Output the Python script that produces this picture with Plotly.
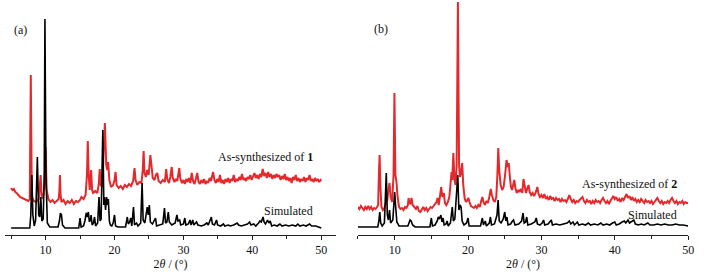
import plotly.graph_objects as go

# ---------------- Panel (a) ----------------
sim_a_x = [5.0, 7.7, 7.85, 8.0, 8.15, 8.35, 8.55, 8.8, 9.0, 9.15, 9.3, 9.45, 9.65, 9.8, 9.9, 10.05, 10.25, 10.6,
           11.8, 12.0, 12.15, 12.3, 12.45, 12.8, 14.8, 15.0, 15.15, 15.5, 15.7, 15.9, 16.05, 16.2, 16.35, 16.5,
           16.6, 16.75, 16.95, 17.1, 17.25, 17.55, 17.75, 17.9, 18.05, 18.3, 18.45, 18.55, 18.7, 18.85, 19.0,
           19.1, 19.25, 19.4, 19.6, 19.8, 20.0, 20.15, 20.5, 21.6, 21.85, 22.0, 22.2, 22.35, 22.5, 22.75, 22.9,
           23.2, 23.4, 23.8, 24.0, 24.15, 24.4, 24.6, 24.75, 24.9, 25.05, 25.2, 25.5, 25.8, 25.95, 26.1, 26.5,
           27.0, 27.25, 27.4, 27.6, 27.8, 27.95, 28.3, 28.8, 29.05, 29.2, 29.45, 29.6, 30.0, 30.2, 30.35, 30.7,
           30.95, 31.1, 31.35, 31.5, 31.9, 32.1, 32.6, 33.0, 33.4, 33.6, 33.9, 34.05, 34.2, 34.5, 34.8, 34.95,
           35.4, 35.8, 36.0, 36.5, 36.8, 37.3, 37.8, 38.0, 38.4, 38.9, 39.3, 39.6, 39.8, 40.2, 40.5, 40.9, 41.1,
           41.3, 41.55, 41.7, 41.9, 42.2, 42.4, 42.6, 42.8, 43.2, 43.6, 44.0, 44.3, 44.8, 45.3, 45.8, 46.3, 46.6,
           46.9, 47.4, 47.8, 48.3, 48.6, 49.2, 49.6, 50.0]
sim_a_y = [7, 7, 20, 60, 20, 9, 15, 78, 20, 18, 38, 14, 16, 60, 216, 60, 12, 8,
           8, 14, 22, 20, 10, 7, 7, 17, 8, 9, 14, 22, 18, 23, 13, 15,
           20, 10, 12, 18, 9, 12, 38, 14, 16, 105, 30, 38, 25, 38, 30,
           36, 14, 10, 9, 12, 20, 9, 8, 8, 18, 11, 13, 17, 9, 28, 10,
           12, 9, 12, 52, 15, 12, 22, 28, 20, 30, 13, 11, 15, 17, 9, 10,
           11, 27, 12, 13, 23, 13, 10, 12, 20, 14, 15, 10, 11, 17, 10, 11,
           15, 10, 15, 10, 13, 10, 9, 10, 12, 10, 15, 18, 11, 10, 15, 10,
           9, 11, 9, 10, 9, 10, 12, 10, 9, 10, 11, 13, 10, 11, 9, 12, 14,
           13, 18, 13, 11, 15, 12, 14, 9, 10, 9, 11, 9, 10, 9, 10, 9, 11,
           9, 10, 9, 11, 9, 9, 8, 7]

exp_a_x = [5.0, 5.2, 5.4, 5.6, 5.8, 6.0, 6.3, 6.6, 6.9, 7.2, 7.5, 7.7, 7.8, 7.85, 7.92, 8.0, 8.3, 8.6, 9.0,
           9.15, 9.28, 9.4, 9.6, 9.85, 10.0, 10.15, 10.4, 10.7, 11.0, 11.3, 11.6, 11.9, 12.0, 12.08, 12.17,
           12.3, 12.6, 12.9, 13.2, 13.5, 13.8, 14.1, 14.4, 14.7, 15.0, 15.2, 15.5, 15.8, 16.0, 16.12, 16.25,
           16.4, 16.6, 16.75, 16.9, 17.2, 17.5, 17.7, 17.85, 18.0, 18.2, 18.4, 18.6, 18.8, 18.95, 19.07, 19.25,
           19.5, 19.8, 20.0, 20.15, 20.3, 20.6, 20.9, 21.2, 21.5, 21.8, 22.1, 22.4, 22.7, 22.9, 23.05, 23.3,
           23.6, 23.9, 24.1, 24.22, 24.35, 24.55, 24.75, 24.95, 25.2, 25.35, 25.55, 25.8, 26.0, 26.2, 26.4,
           26.7, 27.0, 27.3, 27.5, 27.65, 27.9, 28.1, 28.3, 28.45, 28.7, 28.9, 29.1, 29.4, 29.55, 29.8, 30.0,
           30.2, 30.4, 30.6, 30.8, 31.0, 31.2, 31.4, 31.6, 31.8, 32.0, 32.2, 32.4, 32.6, 32.8, 33.0, 33.2,
           33.4, 33.6, 33.8, 34.0, 34.3, 34.5, 34.7, 34.9, 35.1, 35.3, 35.5, 35.7, 35.9, 36.1, 36.3, 36.5,
           36.7, 36.9, 37.1, 37.3, 37.5, 37.7, 37.9, 38.1, 38.3, 38.5, 38.7, 38.9, 39.1, 39.3, 39.5, 39.7,
           39.9, 40.1, 40.3, 40.5, 40.7, 40.9, 41.1, 41.3, 41.5, 41.7, 41.9, 42.1, 42.3, 42.5, 42.7, 42.9,
           43.1, 43.3, 43.5, 43.7, 43.9, 44.1, 44.3, 44.5, 44.7, 44.9, 45.1, 45.3, 45.5, 45.7, 45.9, 46.1,
           46.3, 46.5, 46.7, 46.9, 47.1, 47.3, 47.5, 47.7, 47.9, 48.1, 48.3, 48.5, 48.7, 48.9, 49.1, 49.3,
           49.5, 49.7, 49.9, 50.0]
exp_a_y = [47, 45, 46, 43, 42, 40, 38, 37, 36, 35, 34, 36, 100, 160, 100, 38, 34, 33, 36,
           50, 60, 40, 36, 50, 88, 45, 36, 33, 35, 32, 34, 36, 45, 60, 40,
           33, 35, 31, 34, 32, 35, 31, 34, 33, 35, 38, 36, 40, 60, 94, 60,
           45, 65, 45, 42, 44, 42, 50, 66, 50, 48, 75, 112, 70, 65, 73, 55,
           48, 50, 55, 63, 50, 47, 49, 46, 50, 48, 51, 49, 54, 67, 55, 50,
           53, 52, 65, 84, 62, 58, 65, 60, 80, 70, 57, 55, 60, 62, 54,
           52, 55, 53, 66, 56, 52, 58, 68, 57, 53, 56, 54, 67, 56, 52, 55,
           51, 56, 53, 57, 52, 62, 54, 51, 56, 62, 53, 51, 55, 52, 56, 51,
           54, 52, 57, 54, 63, 55, 52, 56, 53, 60, 52, 55, 51, 56, 53, 57,
           52, 56, 54, 60, 53, 56, 54, 58, 55, 61, 55, 57, 54, 58, 56, 60,
           55, 59, 62, 57, 60, 56, 61, 58, 66, 59, 62, 57, 63, 58, 61, 56,
           60, 57, 61, 58, 60, 55, 59, 56, 61, 55, 58, 54, 57, 52, 58, 55,
           60, 54, 57, 53, 56, 54, 58, 53, 57, 55, 60, 54, 56, 53, 57, 54,
           56, 53, 55, 54]

# ---------------- Panel (b) ----------------
sim_b_x = [5.0, 7.7, 7.85, 7.97, 8.1, 8.3, 8.6, 8.86, 9.0, 9.15, 9.3, 9.45, 9.75, 9.9, 10.0, 10.12, 10.3, 10.6,
           11.8, 12.0, 12.1, 12.25, 12.45, 12.8, 14.8, 15.0, 15.15, 15.5, 15.8, 15.95, 16.1, 16.3, 16.45, 16.6,
           16.75, 17.0, 17.15, 17.3, 17.6, 17.85, 18.0, 18.2, 18.45, 18.6, 18.75, 18.9, 19.05, 19.2, 19.45, 19.8,
           20.0, 20.15, 20.5, 21.7, 21.95, 22.1, 22.35, 22.5, 22.9, 23.05, 23.2, 23.6, 23.95, 24.1, 24.25, 24.5,
           24.8, 25.0, 25.15, 25.3, 25.45, 25.8, 26.05, 26.2, 26.4, 26.9, 27.3, 27.5, 27.65, 27.85, 28.0, 28.15,
           28.6, 29.1, 29.3, 29.45, 29.8, 30.1, 30.3, 30.45, 30.9, 31.2, 31.35, 31.5, 32.0, 32.5, 33.0, 33.5,
           33.8, 34.0, 34.3, 34.5, 34.9, 35.1, 35.6, 36.0, 36.4, 36.7, 37.2, 37.7, 38.1, 38.4, 38.9, 39.3, 39.7,
           40.0, 40.2, 40.6, 41.0, 41.3, 41.5, 41.8, 42.0, 42.3, 42.6, 42.8, 43.2, 43.6, 44.0, 44.5, 44.8, 45.3,
           45.8, 46.3, 46.8, 47.3, 47.8, 48.3, 48.8, 49.3, 49.7, 50.0]
sim_b_y = [8, 8, 14, 23, 12, 9, 12, 62, 20, 15, 25, 12, 15, 35, 43, 30, 13, 9,
           9, 13, 15, 14, 10, 8, 8, 17, 9, 10, 14, 18, 16, 20, 13, 17,
           10, 11, 14, 9, 12, 28, 14, 16, 45, 60, 25, 30, 28, 14, 10, 12,
           17, 9, 9, 9, 17, 10, 14, 9, 12, 18, 10, 11, 20, 35, 14, 12,
           16, 23, 14, 18, 10, 11, 14, 15, 10, 11, 14, 22, 12, 13, 18, 10,
           11, 13, 17, 11, 10, 12, 15, 10, 11, 13, 15, 10, 11, 10, 11, 12,
           14, 11, 13, 10, 13, 10, 11, 10, 12, 10, 11, 10, 12, 10, 11, 10, 12,
           13, 10, 11, 13, 14, 12, 15, 12, 14, 15, 11, 10, 11, 10, 12, 10, 10,
           11, 10, 11, 10, 10, 11, 10, 10, 9, 9]

exp_b_x = [5.0, 5.2, 5.4, 5.6, 5.8, 6.0, 6.2, 6.4, 6.6, 6.8, 7.0, 7.2, 7.4, 7.6, 7.75, 7.85, 7.95, 8.05, 8.2,
           8.4, 8.6, 8.8, 9.0, 9.15, 9.3, 9.45, 9.65, 9.85, 9.97, 10.1, 10.25, 10.4, 10.6, 10.8, 11.0, 11.2,
           11.4, 11.6, 11.8, 11.9, 12.0, 12.15, 12.3, 12.45, 12.7, 12.9, 13.1, 13.3, 13.5, 13.7, 13.9, 14.1,
           14.3, 14.5, 14.7, 14.9, 15.1, 15.3, 15.5, 15.7, 15.85, 16.0, 16.2, 16.35, 16.5, 16.7, 16.85, 17.05,
           17.25, 17.45, 17.6, 17.75, 17.85, 18.0, 18.15, 18.3, 18.45, 18.62, 18.78, 18.9, 19.05, 19.2, 19.35,
           19.55, 19.75, 19.9, 20.05, 20.2, 20.4, 20.6, 20.8, 21.0, 21.2, 21.4, 21.6, 21.8, 21.95, 22.1, 22.3,
           22.5, 22.7, 22.9, 23.1, 23.25, 23.45, 23.65, 23.85, 24.0, 24.12, 24.25, 24.45, 24.65, 24.85, 25.05,
           25.25, 25.4, 25.55, 25.7, 25.85, 26.0, 26.15, 26.3, 26.45, 26.65, 26.85, 27.0, 27.2, 27.4, 27.55,
           27.7, 27.9, 28.05, 28.25, 28.4, 28.6, 28.8, 29.0, 29.2, 29.45, 29.6, 29.8, 30.0, 30.2, 30.4, 30.6,
           30.8, 31.0, 31.2, 31.4, 31.6, 31.8, 32.0, 32.2, 32.4, 32.6, 32.8, 33.0, 33.2, 33.4, 33.6, 33.8,
           34.0, 34.2, 34.4, 34.6, 34.8, 35.0, 35.2, 35.4, 35.6, 35.8, 36.0, 36.2, 36.4, 36.6, 36.8, 37.0,
           37.2, 37.4, 37.6, 37.8, 38.0, 38.2, 38.4, 38.6, 38.8, 39.0, 39.2, 39.4, 39.6, 39.8, 40.0, 40.2,
           40.4, 40.6, 40.8, 41.0, 41.2, 41.4, 41.6, 41.8, 42.0, 42.2, 42.4, 42.6, 42.8, 43.0, 43.2, 43.4,
           43.6, 43.8, 44.0, 44.2, 44.4, 44.6, 44.8, 45.0, 45.2, 45.4, 45.6, 45.8, 46.0, 46.2, 46.4, 46.6,
           46.8, 47.0, 47.2, 47.4, 47.6, 47.8, 48.0, 48.2, 48.4, 48.6, 48.8, 49.0, 49.2, 49.4, 49.6, 49.8, 50.0]
exp_b_y = [28, 26, 29, 27, 25, 28, 26, 29, 26, 28, 25, 27, 26, 28, 30, 60, 80, 50, 28,
           25, 27, 32, 35, 45, 52, 38, 33, 60, 142, 60, 53, 38, 28, 26, 27, 25,
           28, 27, 30, 37, 32, 31, 37, 30, 27, 26, 29, 24, 23, 26, 28, 25,
           27, 24, 26, 28, 27, 29, 30, 33, 37, 30, 40, 48, 38, 42, 32, 30,
           33, 38, 50, 63, 55, 82, 55, 50, 70, 233, 70, 58, 62, 72, 50,
           36, 33, 35, 37, 33, 29, 28, 27, 29, 27, 30, 28, 34, 38, 33, 30,
           34, 32, 38, 46, 40, 35, 33, 38, 60, 87, 65, 50, 45, 48, 60,
           75, 68, 72, 58, 48, 45, 50, 55, 47, 42, 45, 43, 46, 42, 56,
           48, 42, 46, 50, 43, 40, 42, 39, 42, 48, 41, 38, 40, 37, 41, 36,
           38, 35, 39, 36, 37, 34, 37, 35, 36, 33, 36, 34, 35, 33, 36, 40,
           36, 33, 35, 32, 34, 33, 35, 37, 38, 34, 32, 35, 33, 34, 31, 34,
           32, 35, 33, 34, 32, 35, 37, 34, 32, 34, 31, 34, 36, 39, 36, 38,
           34, 36, 33, 37, 35, 38, 41, 37, 39, 35, 38, 34, 36, 33, 35, 33,
           36, 34, 32, 35, 33, 34, 32, 34, 31, 33, 35, 37, 34, 32, 34, 31,
           33, 32, 34, 32, 35, 37, 34, 32, 34, 31, 33, 32, 34, 31, 33, 32, 32]

tick_vals = [10, 20, 30, 40, 50]
tick_text = ["10", "20", "30", "40", "50"]
minor_vals = [5, 15, 25, 35, 45]

RED = "#e5282b"
BLACK = "#000000"
FONT = "Liberation Serif"

fig = go.Figure()
fig.add_trace(go.Scatter(x=exp_a_x, y=exp_a_y, mode="lines", line=dict(color=RED, width=2),
                         xaxis="x", yaxis="y", showlegend=False, hoverinfo="skip"))
fig.add_trace(go.Scatter(x=sim_a_x, y=sim_a_y, mode="lines", line=dict(color=BLACK, width=1.6),
                         xaxis="x", yaxis="y", showlegend=False, hoverinfo="skip"))
fig.add_trace(go.Scatter(x=exp_b_x, y=exp_b_y, mode="lines", line=dict(color=RED, width=2),
                         xaxis="x2", yaxis="y2", showlegend=False, hoverinfo="skip"))
fig.add_trace(go.Scatter(x=sim_b_x, y=sim_b_y, mode="lines", line=dict(color=BLACK, width=1.6),
                         xaxis="x2", yaxis="y2", showlegend=False, hoverinfo="skip"))

xaxis_common = dict(
    showline=True, linecolor="#222222", linewidth=1, mirror=False,
    ticks="outside", ticklen=4, tickwidth=1, tickcolor="#222222",
    tickvals=tick_vals, ticktext=tick_text,
    minor=dict(tickvals=minor_vals, ticks="outside", ticklen=3, tickcolor="#222222", showgrid=False),
    showgrid=False, zeroline=False,
    tickfont=dict(family=FONT, size=12, color="#111111"),
    title=dict(text="2<i>θ</i> / (°)", font=dict(family=FONT, size=12, color="#111111"), standoff=3),
)

fig.update_layout(
    width=714, height=274,
    margin=dict(l=0, r=0, t=0, b=39),
    paper_bgcolor="white", plot_bgcolor="white",
    showlegend=False,
    xaxis=dict(domain=[5 / 714, 339 / 714], range=[4.1, 52.16], anchor="y", **xaxis_common),
    yaxis=dict(domain=[0, 1], range=[0, 235], visible=False, anchor="x"),
    xaxis2=dict(domain=[361 / 714, 694 / 714], range=[5, 50], anchor="y2", **xaxis_common),
    yaxis2=dict(domain=[0, 1], range=[0, 235], visible=False, anchor="x2"),
)

ann_font = dict(family=FONT, size=12, color="#111111")
annotations = [
    dict(text="(a)", x=5.25, y=205, xref="x", yref="y", xanchor="left", yanchor="middle"),
    dict(text="As-synthesized of <b>1</b>", x=49.0, y=78, xref="x", yref="y", xanchor="right", yanchor="middle"),
    dict(text="Simulated", x=49.0, y=24, xref="x", yref="y", xanchor="right", yanchor="middle"),
    dict(text="(b)", x=7.03, y=206, xref="x2", yref="y2", xanchor="left", yanchor="middle"),
    dict(text="As-synthesized of <b>2</b>", x=48.55, y=51, xref="x2", yref="y2", xanchor="right", yanchor="middle"),
    dict(text="Simulated", x=48.55, y=20, xref="x2", yref="y2", xanchor="right", yanchor="middle"),
]
for a in annotations:
    a.update(showarrow=False, font=ann_font, borderpad=0)
fig.update_layout(annotations=annotations)

fig.write_html("out.html", config={"responsive": False, "displayModeBar": False, "staticPlot": True},
               post_script="document.body.style.margin='0';document.body.style.overflow='hidden';")
